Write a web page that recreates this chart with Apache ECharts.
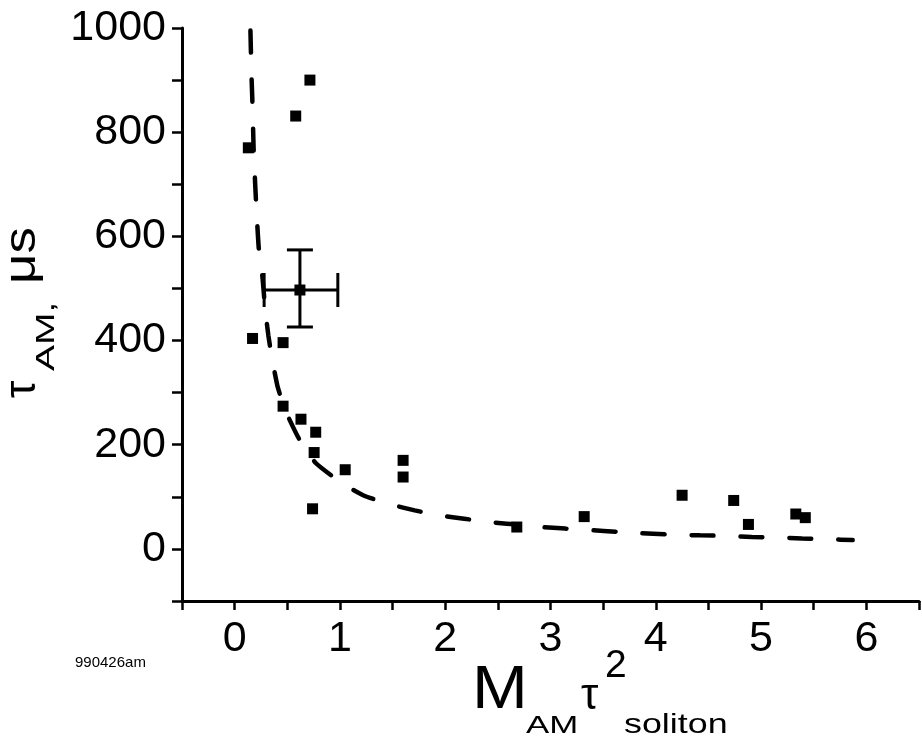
<!DOCTYPE html>
<html>
<head>
<meta charset="utf-8">
<script src="https://cdn.jsdelivr.net/npm/echarts@6/dist/echarts.min.js"></script>
<style>
html,body{margin:0;padding:0;background:#fff;}
#c{width:922px;height:746px;}
</style>
</head>
<body>
<div id="c"></div>
<script>
// measured points (x = M_AM * tau^2_soliton, y = tau_AM in microseconds)
const pointsX = [0.13, 0.17, 0.46, 0.46, 0.58, 0.715, 0.63, 0.77, 0.755, 0.74, 1.05, 1.6, 1.6, 2.68, 3.32, 4.25, 4.74, 4.88, 5.33, 5.42];
const pointsY = [770, 404, 396, 274, 831, 900, 249, 224, 185, 77, 152, 170, 138, 42, 62, 103, 93, 47, 67, 60];

// point with error bars
const errPointX = [0.62];
const errPointY = [497];
const errXMinus = [0.34];
const errXPlus = [0.36];
const errYMinus = [71];
const errYPlus = [77];

// dashed fit curve
const fitX = [0.15, 0.16, 0.17, 0.18, 0.195, 0.21, 0.23, 0.265, 0.29, 0.32, 0.36, 0.41, 0.49, 0.61, 0.77, 1.02, 1.23, 1.49, 1.71, 1.96, 2.18, 2.44, 2.73, 2.91, 3.14, 3.39, 3.62, 3.86, 4.09, 4.42, 4.67, 4.91, 5.15, 5.39, 5.64, 5.87];
const fitY = [995, 910, 850, 770, 700, 640, 575, 520, 460, 410, 360, 310, 262, 212, 165, 126, 102, 85, 74, 64, 58, 51, 46, 42, 39, 36, 33, 30, 28, 26, 25, 23, 22, 20, 18.5, 17];

// axes
const xMin = -0.5, xMax = 6.5, xStep = 0.5;
const yMin = -100, yMax = 1000, yStep = 100;

const FONT = "'Liberation Sans', Arial, Helvetica, sans-serif";

const chart = echarts.init(document.getElementById('c'), null, {renderer: 'canvas'});

const scatterData = pointsX.map((x, i) => [x, pointsY[i]]);
const fitData = fitX.map((x, i) => [x, fitY[i]]);
const errData = errPointX.map((x, i) => [x, errPointY[i], errXMinus[i], errXPlus[i], errYMinus[i], errYPlus[i]]);

const option = {
  backgroundColor: '#ffffff',
  animation: false,
  grid: {left: 182, right: -2, top: 28, bottom: 145, containLabel: false},
  xAxis: {
    type: 'value', min: xMin, max: xMax, interval: xStep,
    axisLine: {show: true, onZero: false, lineStyle: {color: '#000', width: 3}},
    axisTick: {show: true, inside: false, length: 9, lineStyle: {color: '#000', width: 2.5}},
    splitLine: {show: false},
    axisLabel: {
      show: true, margin: 17, color: '#000', fontSize: 43, fontFamily: FONT,
      showMinLabel: true, showMaxLabel: true,
      formatter: v => (Math.abs(v - Math.round(v)) < 1e-9 && v >= 0 && v <= 6) ? String(Math.round(v)) : ''
    }
  },
  yAxis: {
    type: 'value', min: yMin, max: yMax, interval: yStep,
    axisLine: {show: true, onZero: false, lineStyle: {color: '#000', width: 3}},
    axisTick: {show: true, inside: false, length: 10, lineStyle: {color: '#000', width: 2.5}},
    splitLine: {show: false},
    axisLabel: {
      show: true, margin: 16, color: '#000', fontSize: 43, fontFamily: FONT,
      formatter: v => (v >= 0 && Math.round(v) % 200 === 0) ? String(Math.round(v)) : ''
    }
  },
  series: [
    {
      type: 'line', data: fitData, showSymbol: false, symbol: 'none',
      smooth: 0.15,
      lineStyle: {color: '#000', width: 4.5, type: [22, 27], dashOffset: 0, cap: 'round', opacity: 1},
      z: 2
    },
    {
      type: 'scatter', data: scatterData, symbol: 'rect', symbolSize: 11,
      itemStyle: {color: '#000', opacity: 1}, z: 3
    },
    {
      type: 'custom', data: errData, z: 4,
      renderItem: function (params, api) {
        const x = api.value(0), y = api.value(1);
        const c = api.coord([x, y]);
        const l = api.coord([x - api.value(2), y]);
        const r = api.coord([x + api.value(3), y]);
        const b = api.coord([x, y - api.value(4)]);
        const t = api.coord([x, y + api.value(5)]);
        const st = {stroke: '#000', lineWidth: 3};
        const capH = 17, capW = 13;
        return {
          type: 'group',
          children: [
            {type: 'line', shape: {x1: l[0], y1: l[1], x2: r[0], y2: r[1]}, style: st},
            {type: 'line', shape: {x1: b[0], y1: b[1], x2: t[0], y2: t[1]}, style: st},
            {type: 'line', shape: {x1: l[0], y1: l[1] - capH, x2: l[0], y2: l[1] + capH}, style: st},
            {type: 'line', shape: {x1: r[0], y1: r[1] - capH, x2: r[0], y2: r[1] + capH}, style: st},
            {type: 'line', shape: {x1: t[0] - capW, y1: t[1], x2: t[0] + capW, y2: t[1]}, style: st},
            {type: 'line', shape: {x1: b[0] - capW, y1: b[1], x2: b[0] + capW, y2: b[1]}, style: st},
            {type: 'rect', shape: {x: c[0] - 5.5, y: c[1] - 5.5, width: 11, height: 11}, style: {fill: '#000'}}
          ]
        };
      }
    }
  ],
  graphic: [
    // x-axis title: M_AM tau^2_soliton
    {type: 'text', x: 472, y: 690.5, scaleX: 1.08, style: {text: 'M', fontSize: 62, fontFamily: FONT, fill: '#000', align: 'left', verticalAlign: 'middle'}},
    {type: 'text', x: 526, y: 726.7, scaleX: 1.45, style: {text: 'AM', fontSize: 24, fontFamily: FONT, fill: '#000', align: 'left', verticalAlign: 'middle'}},
    {type: 'text', x: 581, y: 697, style: {text: 'τ', fontSize: 44, fontFamily: FONT, fill: '#000', align: 'left', verticalAlign: 'middle'}},
    {type: 'text', x: 605, y: 666.5, style: {text: '2', fontSize: 39, fontFamily: FONT, fill: '#000', align: 'left', verticalAlign: 'middle'}},
    {type: 'text', x: 624, y: 725.3, scaleX: 1.28, style: {text: 'soliton', fontSize: 28, fontFamily: FONT, fill: '#000', align: 'left', verticalAlign: 'middle'}},
    // y-axis title: tau_AM, mu s (rotated)
    {type: 'text', x: 23, y: 398, rotation: Math.PI / 2, style: {text: 'τ', fontSize: 44, fontFamily: FONT, fill: '#000', align: 'left', verticalAlign: 'middle'}},
    {type: 'text', x: 47, y: 371, rotation: Math.PI / 2, scaleX: 1.5, style: {text: 'AM,', fontSize: 26, fontFamily: FONT, fill: '#000', align: 'left', verticalAlign: 'middle'}},
    {type: 'text', x: 23, y: 284, rotation: Math.PI / 2, scaleX: 1.2, style: {text: 'μs', fontSize: 44, fontFamily: FONT, fill: '#000', align: 'left', verticalAlign: 'middle'}},
    // file tag
    {type: 'text', x: 75, y: 662.8, style: {text: '990426am', fontSize: 15, fontFamily: FONT, fill: '#000', align: 'left', verticalAlign: 'middle'}}
  ]
};
chart.setOption(option);
</script>
</body>
</html>
